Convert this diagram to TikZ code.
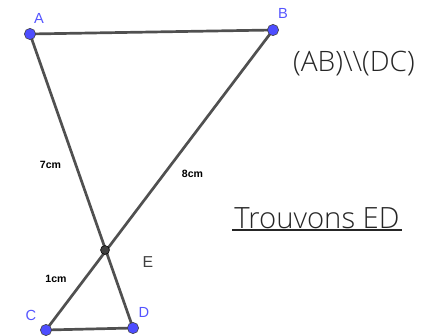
\documentclass[tikz,border=0pt]{standalone}
\usepackage{fontspec}
\setmainfont{Liberation Sans}
\newfontfamily\lightfont{Open Sans Light}
\usetikzlibrary{positioning, calc}
\definecolor{ptblue}{HTML}{4D4DFF}
\definecolor{lblblue}{HTML}{5555FF}
\definecolor{segray}{HTML}{505050}
\definecolor{dkgray}{HTML}{404040}

\begin{document}
\begin{tikzpicture}[x=0.03cm, y=-0.03cm]

% Canvas — same size as the reference
\fill[white] (0,0) rectangle (428,335);
\useasboundingbox (0,0) rectangle (428,335);

% Points
\coordinate (A) at (30,34);
\coordinate (B) at (273,30);
\coordinate (E) at (105,250);
\coordinate (C) at (46,330);
\coordinate (D) at (133,328);

% Segments
\draw[segray, line width=2.3pt] (A) -- (B);
\draw[segray, line width=2.3pt] (A) -- (D);
\draw[segray, line width=2.3pt] (B) -- (C);
\draw[segray, line width=2.3pt] (C) -- (D);

% Point marks
\foreach \p in {A,B,C,D}
  \filldraw[fill=ptblue, draw=dkgray, line width=0.5pt] (\p) circle (4.8pt);
\filldraw[fill=dkgray, draw=black, line width=0.5pt] (E) circle (3.8pt);

% Point labels
\node[text=lblblue, font=\fontsize{12.5}{14}\selectfont] (lA) at (39,18) {A};
\node[text=lblblue, font=\fontsize{12.5}{14}\selectfont] (lB) at (283,13) {B};
\node[text=lblblue, font=\fontsize{12.5}{14}\selectfont] (lC) at (31,315) {C};
\node[text=lblblue, font=\fontsize{12.5}{14}\selectfont] (lD) at (144,312) {D};
\node[text=dkgray, font=\fontsize{13.5}{15}\selectfont] (lE) at (148,262) {E};

% Lengths
\node[font=\fontsize{9}{11}\selectfont\bfseries] (l7) at (50.5,165) {7cm};
\node[font=\fontsize{9}{11}\selectfont\bfseries] (l8) at (192.5,174) {8cm};
\node[font=\fontsize{9}{11}\selectfont\bfseries] (l1) at (56,279) {1cm};

% Texts on the right
\node[font=\lightfont\fontsize{24}{28}\selectfont, text=black!85] (par) at (354,64) {(AB)\textbackslash\textbackslash(DC)};
\node[font=\lightfont\fontsize{25}{30}\selectfont, text=black!85] (find) at (317,218) {Trouvons ED};
\draw[black!85, line width=1pt] ($(find.west)+(2,12)$) -- ($(find.east)+(-2,12)$);

\end{tikzpicture}
\end{document}
